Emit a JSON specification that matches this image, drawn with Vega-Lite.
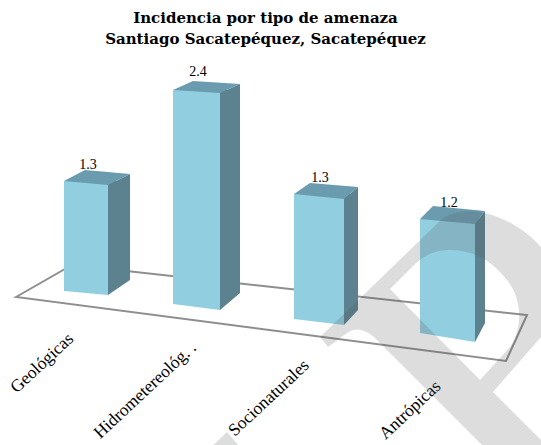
{
"$schema":"https://vega.github.io/schema/vega-lite/v6.json",
"width":541,"height":445,"padding":0,"autosize":"none","background":"white",
"config":{"view":{"stroke":null},"axis":{"disable":true},"text":{"font":"Liberation Serif"}},
"title":{"text":["Incidencia por tipo de amenaza","Santiago Sacatepéquez, Sacatepéquez"],"font":"DejaVu Serif","fontWeight":"bold","fontSize":15,"lineHeight":21,"color":"black","anchor":"middle","frame":"group","offset":-46.5,"dx":-5},
"data":{"values":[
{"tipo":"Geológicas","valor":1.3},
{"tipo":"Hidrometereológ. .","valor":2.4},
{"tipo":"Socionaturales","valor":1.3},
{"tipo":"Antrópicas","valor":1.2}]},
"resolve":{"scale":{"x":"independent","y":"independent"}},
"layer":[
{"data":{"values":[{"forma":"suelo"}]},
 "mark":{"type":"point","shape":"M-254.5,74.5L-198.5,42.5L256.5,92.5L235.5,138.5Z","size":4,"filled":false,"fill":"transparent","stroke":"#8e8e8e","strokeWidth":2,"opacity":1},
 "encoding":{"x":{"datum":0.5,"type":"quantitative","scale":{"domain":[0,1]}},"y":{"datum":0.5,"type":"quantitative","scale":{"domain":[0,1]}}}},
{"transform":[{"filter":"datum.tipo==='Geológicas'"}],
 "encoding":{"x":{"field":"tipo","type":"nominal","scale":{"range":[64,108],"paddingInner":0,"paddingOuter":0}},
  "y":{"field":"valor","type":"quantitative","scale":{"domain":[-1.82,3.44],"nice":false,"zero":false}}},
 "layer":[
 {"mark":{"type":"point","shape":"M22,4L44,-7L44,5L22,5Z","size":4,"filled":true,"fill":"#5c828f","strokeWidth":0,"opacity":1}},
 {"mark":{"type":"point","shape":"M22,-12L44,-12L44,-11L22,4Z","size":4,"filled":true,"fill":"#5c828f","strokeWidth":0,"opacity":1},"encoding":{"y":{"datum":0,"type":"quantitative"}}},
 {"mark":{"type":"bar","color":"#5c828f","width":22,"xOffset":33,"y2Offset":-11},"encoding":{"y2":{"datum":0}}},
 {"mark":{"type":"bar","color":"#91cee0"},"encoding":{"y2":{"datum":0}}},
 {"mark":{"type":"point","shape":"M-22,-1L22,-1L22,4L-22,0Z","size":4,"filled":true,"fill":"#91cee0","strokeWidth":0,"opacity":1},"encoding":{"y":{"datum":0,"type":"quantitative"}}},
 {"mark":{"type":"point","shape":"M-22,0L-1,-11L44,-7L22,4Z","size":4,"filled":true,"fill":"#6a9bae","strokeWidth":0,"opacity":1}},
 {"mark":{"type":"text","fontSize":14,"dx":2,"dy":-16,"baseline":"middle","align":"center","color":"black"},"encoding":{"text":{"field":"valor","format":".1f"}}},
 {"mark":{"type":"text","fontSize":17.5,"angle":317,"align":"right","baseline":"middle","dx":-42,"dy":23,"color":"black"},"encoding":{"y":{"datum":0,"type":"quantitative"},"text":{"field":"tipo"}}}
 ]},
{"transform":[{"filter":"datum.tipo==='Hidrometereológ. .'"}],
 "encoding":{"x":{"field":"tipo","type":"nominal","scale":{"range":[173,220],"paddingInner":0,"paddingOuter":0}},
  "y":{"field":"valor","type":"quantitative","scale":{"domain":[-1.581,3.409],"nice":false,"zero":false}}},
 "layer":[
 {"mark":{"type":"point","shape":"M23.5,3L43.5,-6L43.5,4L23.5,4Z","size":4,"filled":true,"fill":"#5c828f","strokeWidth":0,"opacity":1}},
 {"mark":{"type":"point","shape":"M23.5,-12L43.5,-12L43.5,-11L23.5,6Z","size":4,"filled":true,"fill":"#5c828f","strokeWidth":0,"opacity":1},"encoding":{"y":{"datum":0,"type":"quantitative"}}},
 {"mark":{"type":"bar","color":"#5c828f","width":20,"xOffset":33.5,"y2Offset":-11},"encoding":{"y2":{"datum":0}}},
 {"mark":{"type":"bar","color":"#91cee0"},"encoding":{"y2":{"datum":0}}},
 {"mark":{"type":"point","shape":"M-23.5,-1L23.5,-1L23.5,6L-23.5,0Z","size":4,"filled":true,"fill":"#91cee0","strokeWidth":0,"opacity":1},"encoding":{"y":{"datum":0,"type":"quantitative"}}},
 {"mark":{"type":"point","shape":"M-23.5,0L-3.5,-9L43.5,-6L23.5,3Z","size":4,"filled":true,"fill":"#6a9bae","strokeWidth":0,"opacity":1}},
 {"mark":{"type":"text","fontSize":14,"dx":1.5,"dy":-18,"baseline":"middle","align":"center","color":"black"},"encoding":{"text":{"field":"valor","format":".1f"}}},
 {"mark":{"type":"text","fontSize":17.5,"angle":317,"align":"right","baseline":"middle","dx":-30,"dy":28.3,"color":"black"},"encoding":{"y":{"datum":0,"type":"quantitative"},"text":{"field":"tipo"}}}
 ]},
{"transform":[{"filter":"datum.tipo==='Socionaturales'"}],
 "encoding":{"x":{"field":"tipo","type":"nominal","scale":{"range":[294,344],"paddingInner":0,"paddingOuter":0}},
  "y":{"field":"valor","type":"quantitative","scale":{"domain":[-1.31,3.318],"nice":false,"zero":false}}},
 "layer":[
 {"mark":{"type":"point","shape":"M25,5L39,-7L39,6L25,6Z","size":4,"filled":true,"fill":"#5c828f","strokeWidth":0,"opacity":1}},
 {"mark":{"type":"point","shape":"M25,-10L39,-10L39,-9L25,6Z","size":4,"filled":true,"fill":"#5c828f","strokeWidth":0,"opacity":1},"encoding":{"y":{"datum":0,"type":"quantitative"}}},
 {"mark":{"type":"bar","color":"#5c828f","width":14,"xOffset":32,"y2Offset":-9},"encoding":{"y2":{"datum":0}}},
 {"mark":{"type":"bar","color":"#91cee0"},"encoding":{"y2":{"datum":0}}},
 {"mark":{"type":"point","shape":"M-25,-1L25,-1L25,6L-25,0Z","size":4,"filled":true,"fill":"#91cee0","strokeWidth":0,"opacity":1},"encoding":{"y":{"datum":0,"type":"quantitative"}}},
 {"mark":{"type":"point","shape":"M-25,0L-9,-11L39,-7L25,5Z","size":4,"filled":true,"fill":"#6a9bae","strokeWidth":0,"opacity":1}},
 {"mark":{"type":"text","fontSize":14,"dx":1,"dy":-16,"baseline":"middle","align":"center","color":"black"},"encoding":{"text":{"field":"valor","format":".1f"}}},
 {"mark":{"type":"text","fontSize":17.5,"angle":317,"align":"right","baseline":"middle","dx":-39,"dy":23.7,"color":"black"},"encoding":{"y":{"datum":0,"type":"quantitative"},"text":{"field":"tipo"}}}
 ]},
{"transform":[{"filter":"datum.tipo==='Antrópicas'"}],
 "encoding":{"x":{"field":"tipo","type":"nominal","scale":{"range":[420,475],"paddingInner":0,"paddingOuter":0}},
  "y":{"field":"valor","type":"quantitative","scale":{"domain":[-1.179,3.505],"nice":false,"zero":false}}},
 "layer":[
 {"mark":{"type":"point","shape":"M27.5,5L37.5,-8L37.5,6L27.5,6Z","size":4,"filled":true,"fill":"#5c828f","strokeWidth":0,"opacity":1}},
 {"mark":{"type":"point","shape":"M27.5,-11L37.5,-11L37.5,-10L27.5,9Z","size":4,"filled":true,"fill":"#5c828f","strokeWidth":0,"opacity":1},"encoding":{"y":{"datum":0,"type":"quantitative"}}},
 {"mark":{"type":"bar","color":"#5c828f","width":10,"xOffset":32.5,"y2Offset":-10},"encoding":{"y2":{"datum":0}}},
 {"mark":{"type":"bar","color":"#91cee0"},"encoding":{"y2":{"datum":0}}},
 {"mark":{"type":"point","shape":"M-27.5,-1L27.5,-1L27.5,9L-27.5,0Z","size":4,"filled":true,"fill":"#91cee0","strokeWidth":0,"opacity":1},"encoding":{"y":{"datum":0,"type":"quantitative"}}},
 {"mark":{"type":"point","shape":"M-27.5,0L-14.5,-13L37.5,-8L27.5,5Z","size":4,"filled":true,"fill":"#6a9bae","strokeWidth":0,"opacity":1}},
 {"mark":{"type":"text","fontSize":14,"dx":1.5,"dy":-16,"baseline":"middle","align":"center","color":"black"},"encoding":{"text":{"field":"valor","format":".1f"}}},
 {"mark":{"type":"text","fontSize":17.5,"angle":317,"align":"right","baseline":"middle","dx":-41.5,"dy":31,"color":"black"},"encoding":{"y":{"datum":0,"type":"quantitative"},"text":{"field":"tipo"}}}
 ]},
{"data":{"values":[{"forma":"marca de agua"}]},
 "mark":{"type":"point","shape":"M49.5,114.5L171.5,-3.5C199.5,-22.5,244.5,-4.5,270.5,24.5C304.5,62.5,299.5,87.5,270.5,114.5L222.5,169.5L289.5,236.5L229.5,240.5L109.5,120.5C99.5,109.5,87.5,102.5,76.5,110.5L57.5,124.5ZM119.5,66.5L209.5,157.5L239.5,124.5C254.5,102.5,249.5,72.5,236.5,57.5C219.5,35.5,199.5,27.5,179.5,27.5C164.5,27.5,154.5,32.5,144.5,41.5ZM-65.5,230.5L-43.5,209.5L-25.5,230.5Z","size":4,"filled":true,"fill":"#55555a","strokeWidth":0,"opacity":0.2},
 "encoding":{"x":{"datum":0.5,"type":"quantitative","scale":{"domain":[0,1]}},"y":{"datum":0.5,"type":"quantitative","scale":{"domain":[0,1]}}}}
]}
